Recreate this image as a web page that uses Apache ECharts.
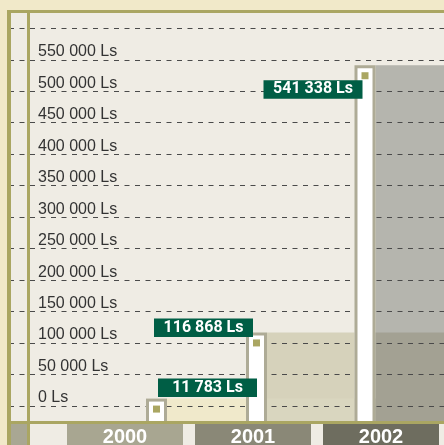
<!DOCTYPE html>
<html>
<head>
<meta charset="utf-8">
<script src="https://cdn.jsdelivr.net/npm/echarts@6.0.0/dist/echarts.min.js"></script>
<style>
  html, body { margin: 0; padding: 0; background: #efece4; }
  #turnover { width: 444px; height: 445px; }
</style>
</head>
<body>
<div id="turnover"></div>
<script>
// data
var years = ["2000", "2001", "2002"];
var amounts = [11783, 116868, 541338];
var axisMax = 600000;
var axisStep = 50000;

// layout / colours
var barW = 21;
var baseDrop = 15; // bars and panels run down to the olive base line
var barShift = [31.5, 3.5, -16];
var labelShift = [[12, -20], [-92, -14], [-91, 15]];
var panelColors = [["#f0e9cb"], ["#d9d6bf", "#d6d2bb"], ["#a3a193", "#a3a193", "#b5b5ae"]];
var yearColors = ["#a8a691", "#8a8877", "#6e6d5f"];
var olive = "#aaa662";
var cream = "#f1e9c9";
var font = "'Liberation Sans', Arial, sans-serif";

function fmt(v) {
  return String(v).replace(/\B(?=(\d{3})+(?!\d))/g, " ") + " Ls";
}

function panelItem(params, api) {
  var i = api.value(0);
  var base = api.coord([i, 0]);
  var left = base[0] + barShift[i] + barW / 2;
  var right = i < years.length - 1
    ? api.coord([i + 1, 0])[0] + barShift[i + 1] - barW / 2
    : params.coordSys.x + params.coordSys.width;
  var bottom = base[1] + baseDrop;
  var children = [];
  for (var j = i; j >= 0; j--) {
    var top = api.coord([i, amounts[j]])[1];
    children.push({
      type: "rect",
      shape: { x: left, y: top, width: right - left, height: bottom - top },
      style: { fill: panelColors[i][j] }
    });
  }
  return { type: "group", children: children };
}

function barItem(params, api) {
  var i = api.value(0);
  var p = api.coord([i, api.value(1)]);
  var x = p[0] + barShift[i] - barW / 2;
  var top = p[1];
  var bottom = api.coord([i, 0])[1] + baseDrop;
  return {
    type: "group",
    children: [
      { type: "rect", shape: { x: x, y: top, width: barW, height: bottom - top }, style: { fill: "#aeab96" } },
      { type: "rect", shape: { x: x + 3, y: top + 3, width: barW - 6, height: bottom - top - 3 }, style: { fill: "#ffffff" } },
      { type: "rect", shape: { x: x + 7, y: top + 7, width: 7, height: 7 }, style: { fill: olive } }
    ]
  };
}

function labelItem(params, api) {
  var i = api.value(0);
  var p = api.coord([i, api.value(1)]);
  var x = p[0] + barShift[i] - barW / 2 + labelShift[i][0];
  var y = p[1] + labelShift[i][1];
  return {
    type: "rect",
    shape: { x: x, y: y, width: 99, height: 18.5 },
    style: { fill: "#005e45" },
    textContent: {
      style: {
        text: fmt(api.value(1)),
        fill: "#ffffff",
        font: "bold 16px Roboto, " + font
      }
    },
    textConfig: { position: "inside" }
  };
}

var points = years.map(function (y, i) { return [i, amounts[i]]; });

var rich = {};
yearColors.forEach(function (c, i) {
  rich["y" + i] = {
    backgroundColor: c, width: 116, height: 27, lineHeight: 27, align: "center",
    color: "#ffffff", fontSize: 20, fontWeight: "bold", fontFamily: font
  };
});

var option = {
  animation: false,
  backgroundColor: "#efece4",
  grid: [
    { left: 9, right: 0, top: 28.3, bottom: 39, outerBoundsMode: "none" },
    { left: 61, right: -1, top: 28.3, bottom: 39, outerBoundsMode: "none" }
  ],
  xAxis: [
    { gridIndex: 0, type: "value", show: false, min: 0, max: 1 },
    {
      gridIndex: 1, type: "category", data: years,
      axisLine: { show: false }, axisTick: { show: false },
      axisLabel: {
        interval: 0, margin: 18, rich: rich,
        formatter: function (v, i) { return "{y" + i + "|" + v + "}"; }
      }
    }
  ],
  yAxis: [
    {
      gridIndex: 0, type: "value", min: 0, max: axisMax, interval: axisStep,
      axisLine: { show: false }, axisTick: { show: false },
      splitLine: { lineStyle: { color: "#4a4a4a", width: 1, type: [5, 5.5] } },
      axisLabel: {
        inside: true, margin: 29, showMaxLabel: false,
        align: "left", verticalAlign: "bottom", lineHeight: 16,
        color: "#333333", fontSize: 16, fontFamily: font,
        formatter: function (v) { return v >= axisMax ? "" : fmt(v); }
      }
    },
    { gridIndex: 1, type: "value", min: 0, max: axisMax, interval: axisStep, show: false }
  ],
  graphic: [
    { type: "rect", z: 10, shape: { x: 0, y: 0, width: 444, height: 10 }, style: { fill: cream } },
    { type: "rect", z: 10, shape: { x: 0, y: 0, width: 7, height: 445 }, style: { fill: cream } },
    { type: "rect", z: 10, shape: { x: 7, y: 10, width: 437, height: 3 }, style: { fill: olive } },
    { type: "rect", z: 10, shape: { x: 7, y: 10, width: 4, height: 435 }, style: { fill: olive } },
    { type: "rect", z: 10, shape: { x: 27, y: 13, width: 3, height: 432 }, style: { fill: olive } },
    { type: "rect", z: 10, shape: { x: 7, y: 421, width: 437, height: 3 }, style: { fill: olive } },
    { type: "rect", z: 10, shape: { x: 11, y: 424, width: 16, height: 21 }, style: { fill: "#a9a793" } }
  ],
  series: [
    { type: "custom", name: "panels", xAxisIndex: 1, yAxisIndex: 1, z: -1, clip: false, renderItem: panelItem, data: points },
    { type: "custom", name: "bars", xAxisIndex: 1, yAxisIndex: 1, z: 2, clip: false, renderItem: barItem, data: points },
    { type: "custom", name: "labels", xAxisIndex: 1, yAxisIndex: 1, z: 3, clip: false, renderItem: labelItem, data: points }
  ]
};

var chart = echarts.init(document.getElementById("turnover"));
chart.setOption(option);
</script>
</body>
</html>
